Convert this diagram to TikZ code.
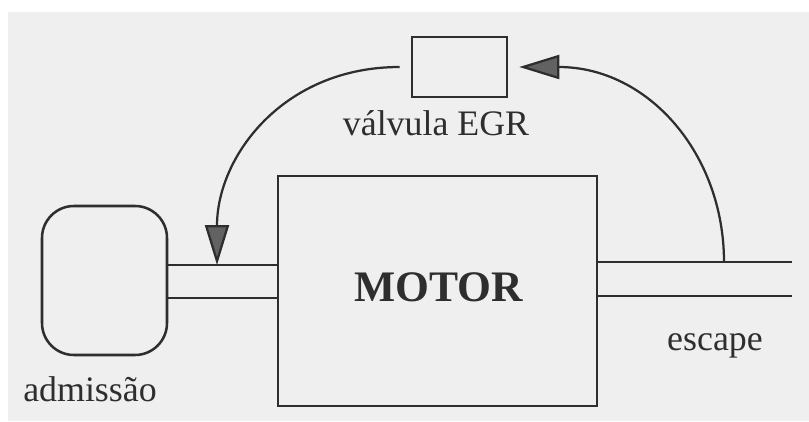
\documentclass[tikz,border=0pt]{standalone}
\usepackage{fontspec}
\setmainfont{Liberation Serif}
\usepackage{xcolor}
\usetikzlibrary{arrows.meta,positioning}
\definecolor{paper}{HTML}{EFEFEF}
\definecolor{ink}{HTML}{2E2E2E}

\begin{document}
\begin{tikzpicture}[font=\fontsize{25.5}{30}\selectfont,text=ink,
part/.style={draw=ink,line width=1.8pt,inner sep=0pt},
lab/.style={inner sep=1pt},
pipe/.style={draw=ink,line width=1.8pt},
flow/.style={draw=ink,line width=1.6pt,-{Triangle[length=10mm,width=6mm,fill=ink!75]}}]
\useasboundingbox (0,0) rectangle (20.225,10.525);
\fill[white] (0,0) rectangle (20.225,10.525);
\fill[paper] (0.2,0) rectangle (20.225,10.225);
\node[part,rounded corners=8mm,minimum width=31.25mm,minimum height=37.25mm] (adm) at (2.6125,3.5125) {};
\node[part,minimum width=79.75mm,minimum height=57.5mm] (motor) at (10.9375,3.25) {};
\node[font=\fontsize{31}{36}\selectfont\bfseries] (motorlab) at (10.975,3.35) {MOTOR};
\node[part,minimum width=23.75mm,minimum height=15mm] (valve) at (11.4875,8.85) {};
\node[lab] (valvelab) at (10.9,7.45) {válvula EGR};
\node[lab] (admlab) at (2.25,0.8) {admissão};
\node[lab] (exhlab) at (17.875,1.87) {escape};
% tubos
\coordinate (inlet) at (5.425,3.9);
\coordinate (egrout) at (18.1,3.975);
\coordinate (exh1) at (19.8,3.975);
\coordinate (exh2) at (19.8,3.125);
\draw[pipe] (adm.east |- 0,3.9) -- (motor.west |- 0,3.9);
\draw[pipe] (adm.east |- 0,3.075) -- (motor.west |- 0,3.075);
\draw[pipe] (motor.east |- exh1) -- (exh1);
\draw[pipe] (motor.east |- exh2) -- (exh2);
% recirculacao
\draw[flow,shorten >=2.75mm] (egrout) .. controls +(0,2.7) and +(3.5,0) .. (valve.east);
\draw[flow,shorten <=2.75mm] (valve.west) .. controls +(-3.2,0) and +(0,2.7) .. (inlet);
\end{tikzpicture}
\end{document}
